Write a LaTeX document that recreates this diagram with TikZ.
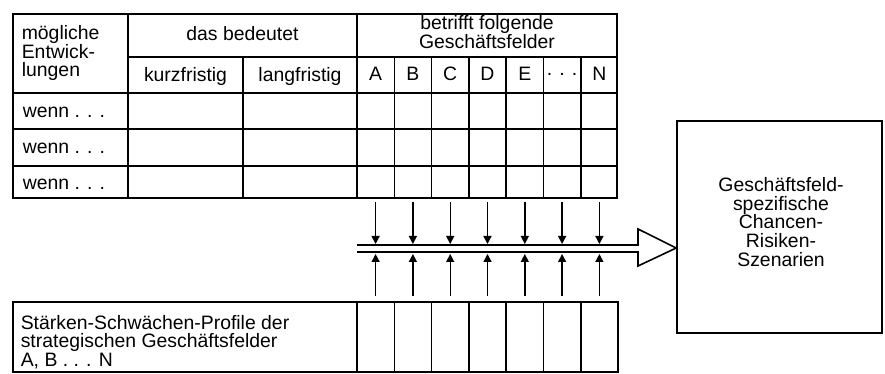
\documentclass[tikz,border=0pt]{standalone}
\usepackage{fontspec}
\setmainfont{Liberation Sans}
\usetikzlibrary{arrows.meta}
\begin{document}
\begin{tikzpicture}[x=0.5pt,y=-0.5pt,line width=0.8pt,
  txt/.style={inner sep=0pt,font=\fontsize{9.7}{9.3}\selectfont},
  feed/.style={-{Triangle[length=4pt,width=4pt]},line width=0.7pt}]
\useasboundingbox (0,0) rectangle (885,374);
\fill[white] (0,0) rectangle (885,374);

% upper table: developments and affected business fields
\draw (13,14) rectangle (617,198);
\foreach \y in {93,129,166} \draw (13,\y) -- (617,\y);
\draw (128,57) -- (617,57);
\draw (128,14) -- (128,198);
\draw (243,57) -- (243,198);
\draw (357,14) -- (357,198);
\foreach \k in {1,...,6} \draw ({357+37.3*\k},57) -- ({357+37.3*\k},198);

\node[txt,align=left,anchor=west] (entw) at (21,53) {mögliche\\Entwick-\\lungen};
\node[txt] (bed) at (242.5,34) {das bedeutet};
\node[txt] (kurz) at (185.5,76) {kurzfristig};
\node[txt] (lang) at (300,76) {langfristig};
\node[txt,align=center] (betr) at (487,32) {betrifft folgende\\Geschäftsfelder};
\foreach \l [count=\i from 0] in {A,B,C,D,E,. . .,N}
  \node[txt] (gf\i) at ({375.6+37.3*\i},74) {\l};
\node[txt,anchor=west] (w1) at (22,112) {wenn . . .};
\node[txt,anchor=west] (w2) at (22,148) {wenn . . .};
\node[txt,anchor=west] (w3) at (22,184) {wenn . . .};

% lower table: strength-weakness profiles
\draw (13,302) rectangle (618,372);
\foreach \k in {0,...,6} \draw ({357+37.3*\k},302) -- ({357+37.3*\k},372);
\node[txt,align=left,anchor=west] (prof) at (20,342)
  {Stärken-Schwächen-Profile der\\strategischen Geschäftsfelder\\A, B . . . N};

% result box
\node[draw,minimum width=102.5pt,minimum height=106pt,inner sep=0pt] (szen) at (779.5,227) {};
\node[txt,align=center] (szentext) at (781,222)
  {Geschäftsfeld-\\spezifische\\Chancen-\\Risiken-\\Szenarien};

% broad hollow arrow into the result box
\draw[line width=0.8pt,line join=miter]
  (357,245) -- (638,245) -- (638,229) -- (szen.west |- 0,248)
  -- (638,266) -- (638,252) -- (357,252);

% feeding arrows from both tables
\foreach \i in {0,...,6} {
  \coordinate (top\i) at ({375.6+37.3*\i},202);
  \coordinate (topend\i) at ({375.6+37.3*\i},244);
  \coordinate (bot\i) at ({375.6+37.3*\i},296);
  \coordinate (botend\i) at ({375.6+37.3*\i},254);
  \draw[feed] (top\i) -- (topend\i);
  \draw[feed] (bot\i) -- (botend\i);
}
\end{tikzpicture}
\end{document}
